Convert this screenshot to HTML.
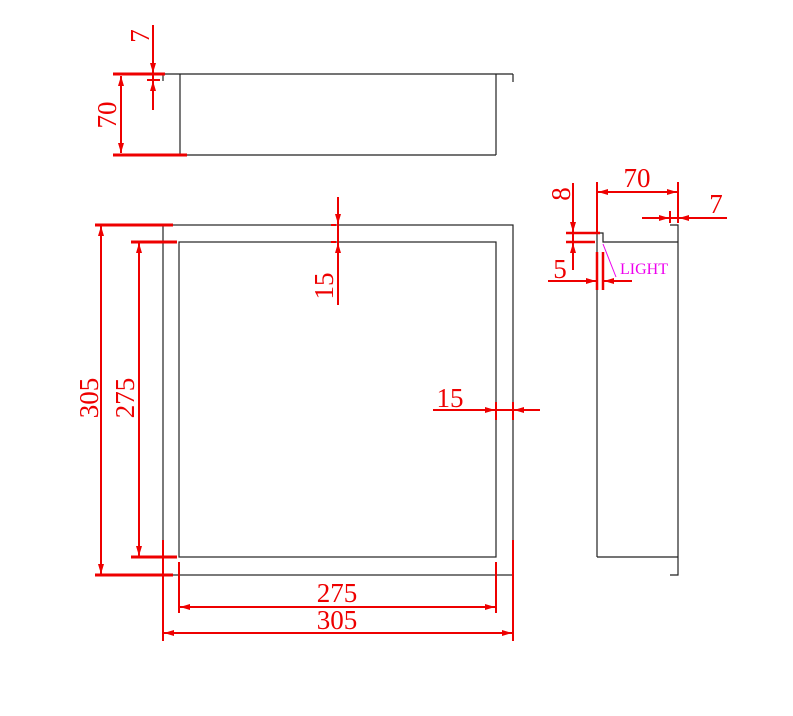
<!DOCTYPE html>
<html><head><meta charset="utf-8"><style>
html,body{margin:0;padding:0;background:#fff;}
svg{display:block;}
text{font-family:"Liberation Serif",serif;fill:#e00;}
</style></head><body>
<svg width="793" height="716" viewBox="0 0 793 716" xmlns="http://www.w3.org/2000/svg">
<defs>
<marker id="a" viewBox="0 0 10 6" refX="10" refY="3" markerWidth="10" markerHeight="6" markerUnits="userSpaceOnUse" orient="auto"><path d="M0,0 L10,3 L0,6 z" fill="#e00"/></marker>
</defs>
<g stroke="#222" stroke-width="1.2" fill="none">
<line x1="160" y1="74" x2="513" y2="74"/>
<line x1="180" y1="74" x2="180" y2="155"/>
<line x1="496" y1="74" x2="496" y2="155"/>
<line x1="180" y1="155" x2="496" y2="155"/>
<line x1="163" y1="74" x2="163" y2="81"/>
<line x1="513" y1="74" x2="513" y2="82"/>
<rect x="163" y="225" width="350" height="350"/>
<rect x="179" y="242" width="317" height="315"/>
<polyline points="597,557 597,233 603,233 603,242 678,242"/>
<polyline points="670,225 678,225 678,575 670,575"/>
<line x1="597" y1="557" x2="678" y2="557"/>
</g>
<g stroke="#e00" stroke-width="2" fill="none">
<line x1="113" y1="74" x2="165" y2="74" stroke-width="3"/>
<line x1="113" y1="155" x2="187" y2="155" stroke-width="3"/>
<line x1="121" y1="88" x2="121" y2="141"/>
<line x1="121" y1="90" x2="121" y2="76" marker-end="url(#a)"/>
<line x1="121" y1="140" x2="121" y2="153" marker-end="url(#a)"/>
<line x1="153" y1="25" x2="153" y2="73" marker-end="url(#a)"/>
<line x1="153" y1="110" x2="153" y2="81" marker-end="url(#a)"/>
<line x1="153" y1="70" x2="153" y2="85"/>
<line x1="147" y1="80" x2="160" y2="80"/>
<line x1="95" y1="225" x2="173" y2="225" stroke-width="3"/>
<line x1="95" y1="575" x2="173" y2="575" stroke-width="3"/>
<line x1="101" y1="240" x2="101" y2="226" marker-end="url(#a)"/>
<line x1="101" y1="240" x2="101" y2="560"/>
<line x1="101" y1="560" x2="101" y2="574" marker-end="url(#a)"/>
<line x1="131" y1="242" x2="177" y2="242" stroke-width="3"/>
<line x1="131" y1="557" x2="177" y2="557" stroke-width="3"/>
<line x1="139" y1="256" x2="139" y2="243" marker-end="url(#a)"/>
<line x1="139" y1="256" x2="139" y2="543"/>
<line x1="139" y1="543" x2="139" y2="556" marker-end="url(#a)"/>
<line x1="163" y1="540" x2="163" y2="641"/>
<line x1="513" y1="540" x2="513" y2="641"/>
<line x1="179" y1="562" x2="179" y2="613"/>
<line x1="496" y1="562" x2="496" y2="613"/>
<line x1="195" y1="607" x2="180" y2="607" marker-end="url(#a)"/>
<line x1="195" y1="607" x2="481" y2="607"/>
<line x1="481" y1="607" x2="495" y2="607" marker-end="url(#a)"/>
<line x1="178" y1="633" x2="164" y2="633" marker-end="url(#a)"/>
<line x1="178" y1="633" x2="498" y2="633"/>
<line x1="498" y1="633" x2="512" y2="633" marker-end="url(#a)"/>
<line x1="338" y1="197" x2="338" y2="224" marker-end="url(#a)"/>
<line x1="338" y1="305" x2="338" y2="243" marker-end="url(#a)"/>
<line x1="338" y1="220" x2="338" y2="246"/>
<line x1="331" y1="225" x2="336" y2="225"/>
<line x1="331" y1="242" x2="336" y2="242"/>
<line x1="433" y1="410" x2="495" y2="410" marker-end="url(#a)"/>
<line x1="540" y1="410" x2="514" y2="410" marker-end="url(#a)"/>
<line x1="493" y1="410" x2="516" y2="410"/>
<line x1="496" y1="402" x2="496" y2="420"/>
<line x1="513" y1="402" x2="513" y2="420"/>
<line x1="597" y1="182" x2="597" y2="232"/>
<line x1="678" y1="182" x2="678" y2="222"/>
<line x1="612" y1="192" x2="598" y2="192" marker-end="url(#a)"/>
<line x1="612" y1="192" x2="663" y2="192"/>
<line x1="663" y1="192" x2="677" y2="192" marker-end="url(#a)"/>
<line x1="642" y1="218" x2="669" y2="218" marker-end="url(#a)"/>
<line x1="727" y1="218" x2="679" y2="218" marker-end="url(#a)"/>
<line x1="668" y1="218" x2="680" y2="218"/>
<line x1="670" y1="211" x2="670" y2="223"/>
<line x1="678" y1="211" x2="678" y2="223"/>
<line x1="566" y1="233" x2="600" y2="233" stroke-width="2.5"/>
<line x1="566" y1="242" x2="595" y2="242" stroke-width="2.5"/>
<line x1="573" y1="183" x2="573" y2="232" marker-end="url(#a)"/>
<line x1="573" y1="270" x2="573" y2="243" marker-end="url(#a)"/>
<line x1="573" y1="230" x2="573" y2="245"/>
<line x1="597" y1="252" x2="597" y2="290" stroke-width="2.5"/>
<line x1="603" y1="252" x2="603" y2="290" stroke-width="2.5"/>
<line x1="548" y1="281" x2="596" y2="281" marker-end="url(#a)"/>
<line x1="632" y1="281" x2="604" y2="281" marker-end="url(#a)"/>
</g>
<line x1="603" y1="244" x2="616" y2="277" stroke="#e0e" stroke-width="1"/>
<g font-size="27">
<text transform="translate(149,36) rotate(-90)" text-anchor="middle">7</text>
<text transform="translate(116,115) rotate(-90)" text-anchor="middle">70</text>
<text transform="translate(98,398) rotate(-90)" text-anchor="middle">305</text>
<text transform="translate(134,398) rotate(-90)" text-anchor="middle">275</text>
<text transform="translate(333,286) rotate(-90)" text-anchor="middle">15</text>
<text x="450" y="407" text-anchor="middle">15</text>
<text x="337" y="602" text-anchor="middle">275</text>
<text x="337" y="629" text-anchor="middle">305</text>
<text x="637" y="187" text-anchor="middle">70</text>
<text x="716" y="213" text-anchor="middle">7</text>
<text transform="translate(570,194) rotate(-90)" text-anchor="middle">8</text>
<text x="560" y="278" text-anchor="middle">5</text>
</g>
<text x="620" y="274" font-size="16" style="fill:#e0e">LIGHT</text>
</svg>
</body></html>
